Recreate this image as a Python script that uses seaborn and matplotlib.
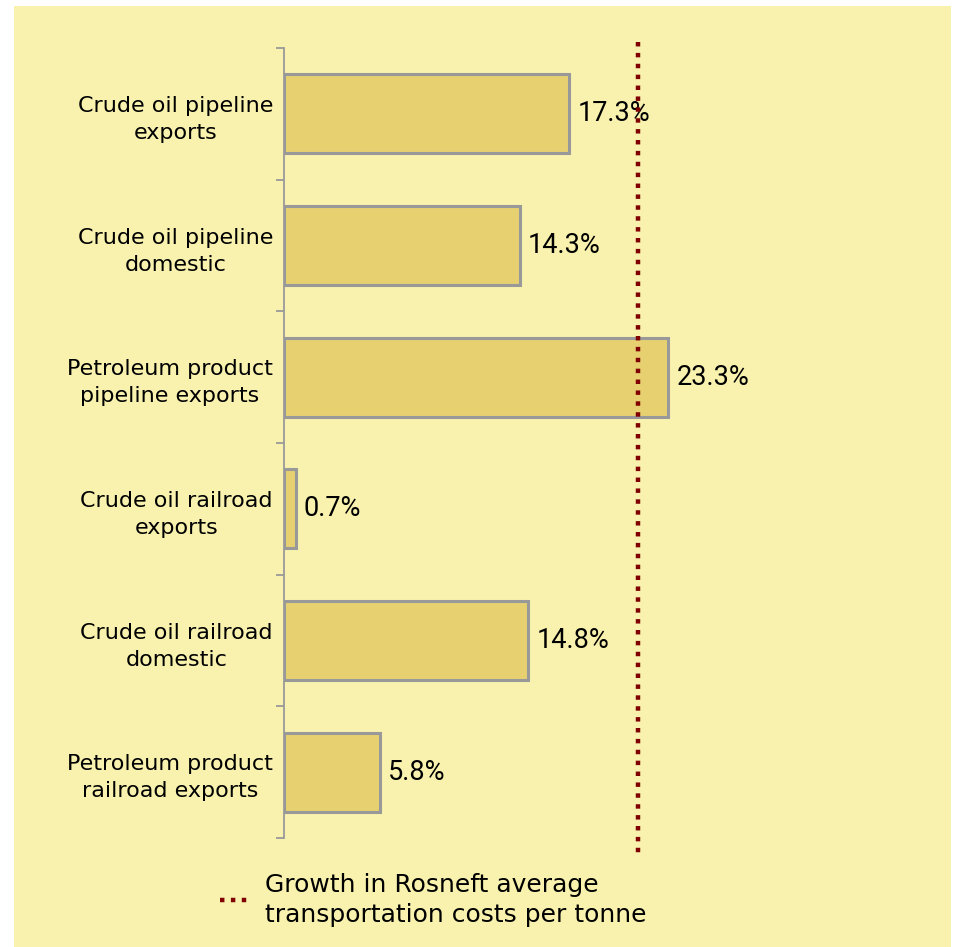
import matplotlib
matplotlib.use("Agg")
import matplotlib.pyplot as plt
from matplotlib.lines import Line2D
import seaborn as sns
import pandas as pd

categories = [
    "Crude oil pipeline\nexports",
    "Crude oil pipeline\ndomestic",
    "Petroleum product\npipeline exports",
    "Crude oil railroad\nexports",
    "Crude oil railroad\ndomestic",
    "Petroleum product\nrailroad exports",
]
values = [17.3, 14.3, 23.3, 0.7, 14.8, 5.8]
avg_growth = 21.5
legend_label = "Growth in Rosneft average\ntransportation costs per tonne"

BG = "#F8F2AE"
BAR = "#E6D070"
EDGE = "#999999"
LINE = "#800000"

sns.set_theme(style="white")
plt.rcParams["font.family"] = ["DejaVu Sans"]
plt.rcParams["text.color"] = "black"

fig = plt.figure(figsize=(9.55, 9.47), dpi=100)
fig.patch.set_facecolor("white")
# yellow panel
fig.add_artist(plt.Rectangle((14 / 955, 0), (951 - 14) / 955, (947 - 6) / 947,
                             transform=fig.transFigure, facecolor=BG, edgecolor="none", zorder=-10))

ax = fig.add_axes([284 / 955, 109 / 947, (900 - 284) / 955, (838 - 48) / 947])
ax.set_facecolor("none")

df = pd.DataFrame({"cat": categories, "val": values})
sns.barplot(data=df, x="val", y="cat", orient="h", ax=ax, color=BAR,
            edgecolor=EDGE, linewidth=2.2, width=0.6, saturation=1)

ax.set_xlim(0, 616 / 16.48)
ax.set_ylim(len(categories) - 0.5, -0.5)
ax.set_xlabel("")
ax.set_ylabel("")
ax.set_xticks([])

for s in ["top", "right", "bottom"]:
    ax.spines[s].set_visible(False)
ax.spines["left"].set_color(EDGE)
ax.spines["left"].set_linewidth(1.3)

ax.tick_params(axis="y", which="major", length=0, pad=8, labelsize=16, labelcolor="black")
for lab in ax.get_yticklabels():
    lab.set_multialignment("center")
    lab.set_linespacing(1.45)
ax.set_yticks([i - 0.5 for i in range(len(categories) + 1)], minor=True)
ax.tick_params(axis="y", which="minor", length=6, width=1.3, color=EDGE, left=True)

ax.bar_label(ax.containers[0], labels=[f"{v:.1f}%" for v in values], padding=6,
             fontsize=19.5, family="Roboto", color="black")

ax.vlines(avg_growth, -0.5 - 0.045, len(categories) - 0.5 + 0.15, colors=LINE,
          linewidth=3.2, linestyles=(0, (1, 1.45)), clip_on=False, zorder=5)

handle = Line2D([0], [0], color=LINE, linewidth=3.2, linestyle=(0, (1, 1.45)))
leg = fig.legend([handle], [legend_label], loc="center", bbox_to_anchor=(0.454, 0.05),
                 frameon=False, fontsize=18, handlelength=1.1, handletextpad=0.7)
for t in leg.get_texts():
    t.set_color("black")
    t.set_linespacing(1.3)

fig.savefig("out.png", dpi=100, facecolor=fig.get_facecolor())
